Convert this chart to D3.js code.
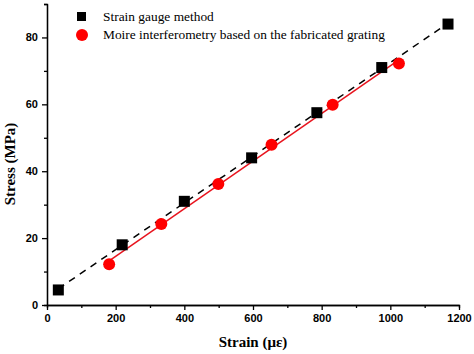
<!DOCTYPE html>
<meta charset="utf-8">
<script src="https://d3js.org/d3.v7.min.js"></script>
<style>
body { margin: 0; background: #fff; }
.tick text { font-family: "Liberation Sans", Arial, sans-serif; font-weight: bold; font-size: 11px; }
.axis path, .axis line { stroke: #000; stroke-width: 1.3; }
</style>
<div id="chart"></div>
<script>
  // Data
  var gaugeStrain = [33, 219, 400, 596, 786, 975, 1168];
  var gaugeStress = [4.5, 18, 31, 44, 57.5, 71, 84];
  var moireStrain = [181, 333, 499, 654, 832, 1025];
  var moireStress = [12.2, 24.2, 36.2, 47.9, 59.9, 72.2];
  var xTicks = [0, 200, 400, 600, 800, 1000, 1200];
  var yTicks = [0, 20, 40, 60, 80];
  var seriesNames = ["Strain gauge method", "Moire interferometry based on the fabricated grating"];

  var margin = { top: 4, right: 15, bottom: 49, left: 47 },
      width = 474 - margin.left - margin.right,
      height = 354 - margin.top - margin.bottom;

  var svg = d3.select("#chart")
              .append("svg")
              .attr("width", 474)
              .attr("height", 354)
              .append("g")
              .attr("transform", "translate(" + margin.left + "," + margin.top + ")");

  var x = d3.scaleLinear().domain([0, 1200]).range([0, 412]);
  var y = d3.scaleLinear().domain([0, 90]).range([height, 0]);

  // minor ticks
  svg.append("g")
     .attr("class", "axis")
     .attr("transform", "translate(0," + height + ")")
     .call(d3.axisBottom(x).tickValues(d3.range(100, 1200, 200)).tickSize(3).tickFormat(""));
  svg.append("g")
     .attr("class", "axis")
     .call(d3.axisLeft(y).tickValues([10, 30, 50, 70, 90]).tickSize(3).tickFormat(""));

  // major axes
  svg.append("g")
     .attr("class", "axis")
     .attr("transform", "translate(0," + height + ")")
     .call(d3.axisBottom(x).tickValues(xTicks).tickFormat(d3.format("d"))
             .tickSize(5).tickSizeOuter(0).tickPadding(4));
  svg.append("g")
     .attr("class", "axis")
     .call(d3.axisLeft(y).tickValues(yTicks).tickSize(5).tickSizeOuter(0).tickPadding(4));

  // fit lines (least squares on each series)
  function fit(xs, ys) {
    var n = xs.length, mx = d3.mean(xs), my = d3.mean(ys), sxy = 0, sxx = 0;
    for (var i = 0; i < n; i++) { sxy += (xs[i] - mx) * (ys[i] - my); sxx += (xs[i] - mx) * (xs[i] - mx); }
    var b = sxy / sxx, a = my - b * mx;
    return function (v) { return a + b * v; };
  }
  var gf = fit(gaugeStrain, gaugeStress);
  var mf = fit(moireStrain, moireStress);
  var gx = d3.extent(gaugeStrain), mx = d3.extent(moireStrain);

  svg.append("line")
     .attr("x1", x(gx[0])).attr("y1", y(gf(gx[0])))
     .attr("x2", x(gx[1])).attr("y2", y(gf(gx[1])))
     .attr("stroke", "#000").attr("stroke-width", 1.5)
     .attr("stroke-dasharray", "7,6");

  svg.append("line")
     .attr("x1", x(mx[0])).attr("y1", y(mf(mx[0])))
     .attr("x2", x(mx[1])).attr("y2", y(mf(mx[1])))
     .attr("stroke", "#e8141e").attr("stroke-width", 1.5);

  // markers
  svg.selectAll(".sq")
     .data(gaugeStrain)
     .enter()
     .append("rect")
     .attr("x", function (d) { return x(d) - 5.5; })
     .attr("y", function (d, i) { return y(gaugeStress[i]) - 5.5; })
     .attr("width", 11).attr("height", 11)
     .attr("fill", "#000");

  svg.selectAll(".dot")
     .data(moireStrain)
     .enter()
     .append("circle")
     .attr("cx", function (d) { return x(d); })
     .attr("cy", function (d, i) { return y(moireStress[i]); })
     .attr("r", 6)
     .attr("fill", "#f00");

  // legend
  var lg = svg.append("g").attr("transform", "translate(35,13)");
  lg.append("rect").attr("x", -5).attr("y", -5).attr("width", 9).attr("height", 9).attr("fill", "#000");
  lg.append("circle").attr("cx", 0).attr("cy", 18).attr("r", 6).attr("fill", "#f00");
  lg.selectAll("text")
    .data(seriesNames)
    .enter()
    .append("text")
    .attr("x", 21)
    .attr("y", function (d, i) { return i * 18 + 4; })
    .attr("font-family", "Liberation Serif, Times New Roman, serif")
    .attr("font-size", "13.4px")
    .text(function (d) { return d; });

  // axis titles
  svg.append("text")
     .attr("x", 206).attr("y", height + 42)
     .attr("text-anchor", "middle")
     .attr("font-family", "Liberation Serif, Times New Roman, serif")
     .attr("font-weight", "bold").attr("font-size", "15px")
     .text("Strain (\u03bc\u03b5)");

  svg.append("text")
     .attr("transform", "translate(-32,160) rotate(-90)")
     .attr("text-anchor", "middle")
     .attr("font-family", "Liberation Serif, Times New Roman, serif")
     .attr("font-weight", "bold").attr("font-size", "15px")
     .text("Stress (MPa)");
</script>
